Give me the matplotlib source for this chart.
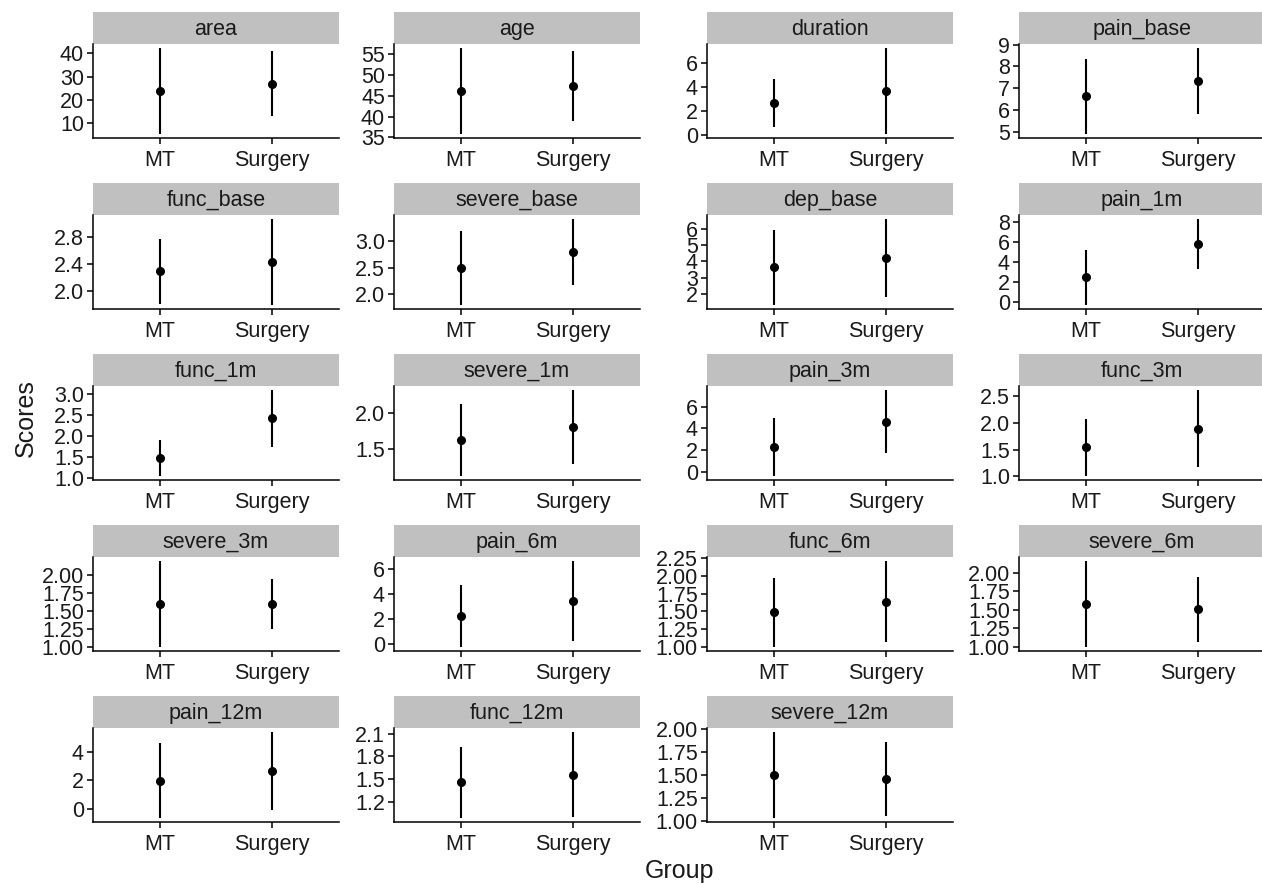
import matplotlib.pyplot as plt
import numpy as np

plt.rcParams['font.family'] = ['Liberation Sans', 'DejaVu Sans']

groups = ["MT", "Surgery"]
variables = ["area", "age", "duration", "pain_base",
             "func_base", "severe_base", "dep_base", "pain_1m",
             "func_1m", "severe_1m", "pain_3m", "func_3m",
             "severe_3m", "pain_6m", "func_6m", "severe_6m",
             "pain_12m", "func_12m", "severe_12m"]

# mean and sd per group (MT, Surgery)
mt_mean = [23.9, 46.2, 2.69, 6.63, 2.29, 2.49, 3.63, 2.47, 1.48, 1.63,
           2.30, 1.54, 1.60, 2.27, 1.49, 1.58, 1.98, 1.46, 1.50]
mt_sd = [18.3, 10.3, 2.00, 1.70, 0.48, 0.70, 2.27, 2.73, 0.43, 0.50,
         2.63, 0.53, 0.59, 2.45, 0.49, 0.58, 2.60, 0.47, 0.46]
sg_mean = [27.1, 47.4, 3.69, 7.34, 2.43, 2.79, 4.20, 5.77, 2.41, 1.81,
           4.61, 1.89, 1.60, 3.44, 1.64, 1.51, 2.65, 1.56, 1.46]
sg_sd = [14.1, 8.35, 3.58, 1.49, 0.63, 0.63, 2.37, 2.50, 0.67, 0.51,
         2.89, 0.72, 0.35, 3.17, 0.57, 0.44, 2.70, 0.56, 0.40]

ytick_labels = [
    ["10", "20", "30", "40"],
    ["35", "40", "45", "50", "55"],
    ["0", "2", "4", "6"],
    ["5", "6", "7", "8", "9"],
    ["2.0", "2.4", "2.8"],
    ["2.0", "2.5", "3.0"],
    ["2", "3", "4", "5", "6"],
    ["0", "2", "4", "6", "8"],
    ["1.0", "1.5", "2.0", "2.5", "3.0"],
    ["1.5", "2.0"],
    ["0", "2", "4", "6"],
    ["1.0", "1.5", "2.0", "2.5"],
    ["1.00", "1.25", "1.50", "1.75", "2.00"],
    ["0", "2", "4", "6"],
    ["1.00", "1.25", "1.50", "1.75", "2.00", "2.25"],
    ["1.00", "1.25", "1.50", "1.75", "2.00"],
    ["0", "2", "4"],
    ["1.2", "1.5", "1.8", "2.1"],
    ["1.00", "1.25", "1.50", "1.75", "2.00"],
]

W, H = 1262, 884
fig = plt.figure(figsize=(W / 100, H / 100), dpi=100)

col_left = [93, 394, 707, 1019]
row_top = [12, 183, 354, 525, 696]
pw, sh, ph = 246, 32, 94

for i, var in enumerate(variables):
    r, c = divmod(i, 4)
    x0 = col_left[c]
    y0 = row_top[r]

    # strip
    sax = fig.add_axes([x0 / W, 1 - (y0 + sh) / H, pw / W, sh / H])
    sax.set_facecolor("#C0C0C0")
    for s in sax.spines.values():
        s.set_visible(False)
    sax.set_xticks([])
    sax.set_yticks([])
    sax.text(0.5, 0.45, var, ha="center", va="center", fontsize=15.5,
             color="#1a1a1a", transform=sax.transAxes)

    ax = fig.add_axes([x0 / W, 1 - (y0 + sh + ph) / H, pw / W, ph / H])
    means = [mt_mean[i], sg_mean[i]]
    sds = [mt_sd[i], sg_sd[i]]
    lo = np.array(means) - np.array(sds)
    hi = np.array(means) + np.array(sds)
    xs = np.arange(len(groups))
    ax.vlines(xs, lo, hi, color="black", lw=1.5)
    ax.plot(xs, means, "o", color="black", ms=5.5)

    span = hi.max() - lo.min()
    ax.set_ylim(lo.min() - 0.05 * span, hi.max() + 0.05 * span)
    ax.set_xlim(-0.6, 1.6)
    ax.set_xticks(xs)
    ax.set_xticklabels(groups)
    labs = ytick_labels[i]
    ax.set_yticks([float(t) for t in labs])
    ax.set_yticklabels(labs)

    for s in ["top", "right"]:
        ax.spines[s].set_visible(False)
    for s in ["left", "bottom"]:
        ax.spines[s].set_linewidth(1.1)
    ax.tick_params(labelsize=15.5, length=4.5, width=1.1, pad=2,
                   colors="black", labelcolor="#1a1a1a")
    ax.tick_params(axis="x", pad=4)
    ax.set_facecolor("white")

fig.text(26 / W, 1 - 418 / H, "Scores", rotation=90, ha="center",
         va="center", fontsize=18, color="#1a1a1a")
fig.text(680 / W, 1 - 871 / H, "Group", ha="center", va="center",
         fontsize=18, color="#1a1a1a")

fig.savefig("out.png", dpi=100)
